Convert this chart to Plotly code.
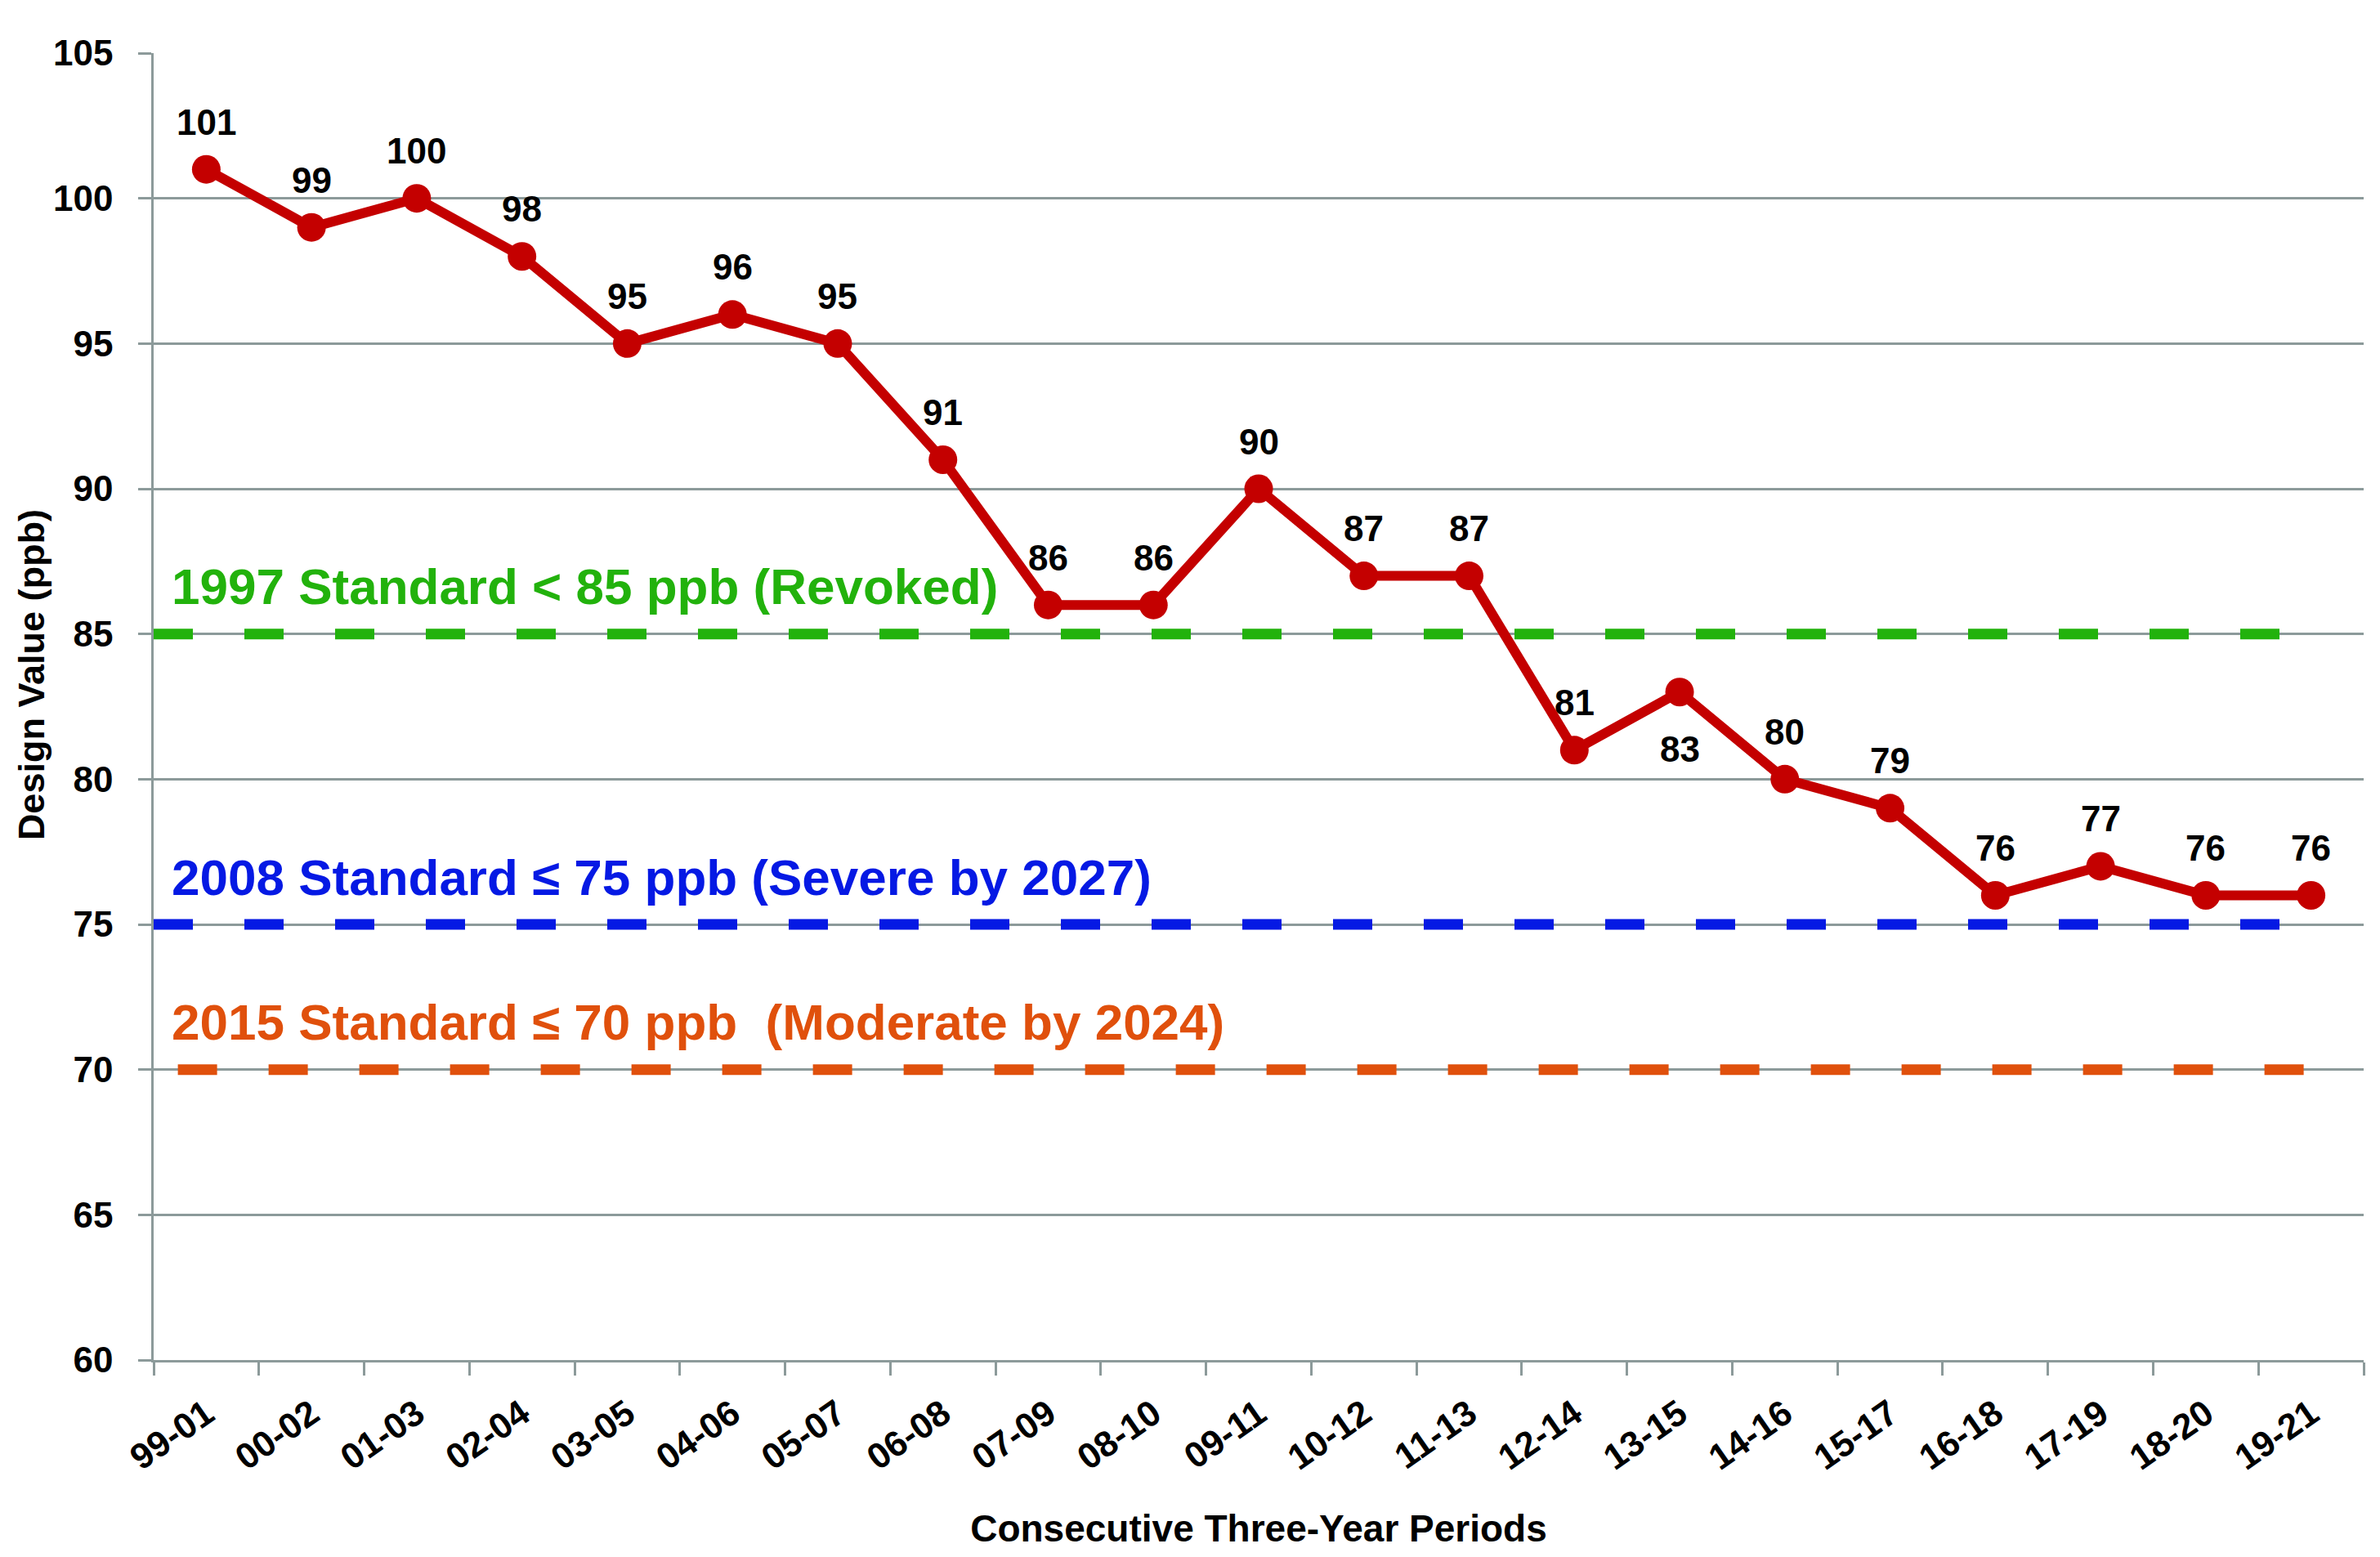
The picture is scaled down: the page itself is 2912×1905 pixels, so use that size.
import plotly.graph_objects as go

# ---- data ----
periods = ["99-01", "00-02", "01-03", "02-04", "03-05", "04-06", "05-07", "06-08",
           "07-09", "08-10", "09-11", "10-12", "11-13", "12-14", "13-15", "14-16",
           "15-17", "16-18", "17-19", "18-20", "19-21"]
design_values = [101, 99, 100, 98, 95, 96, 95, 91, 86, 86, 90, 87, 87, 81, 83, 80,
                 79, 76, 77, 76, 76]
label_below = ["13-15"]  # periods whose value label sits under the marker

standard_values = [85, 75, 70]
standard_labels = [
    "1997 Standard < 85 ppb (Revoked)",
    "2008 Standard \u2264 75 ppb (Severe by 2027)",
    "2015 Standard \u2264 70 ppb \u00a0(Moderate by 2024)",
]
standard_colors = ["#22B20C", "#0519E4", "#E0500C"]

y_ticks = [60, 65, 70, 75, 80, 85, 90, 95, 100, 105]
x_title = "Consecutive Three-Year Periods"
y_title = "Design Value (ppb)"

# ---- styles ----
FONT = "Liberation Sans, Arial, Helvetica, sans-serif"
GRID = "#8C9A9A"
RED = "#C40000"

fig = go.Figure()

fig.add_trace(go.Scatter(
    x=periods, y=design_values, mode="lines+markers",
    line=dict(color=RED, width=12),
    marker=dict(color=RED, size=35),
    showlegend=False, hoverinfo="x+y",
))

# value labels
for p, v in zip(periods, design_values):
    below = p in label_below
    fig.add_annotation(
        x=p, y=v, xref="x", yref="y", text=str(v), showarrow=False,
        yanchor="middle", xanchor="center", yshift=-70 if below else 58,
        font=dict(family=FONT, size=44, color="black", weight="bold"),
    )

# standard threshold lines + labels
line_start_offset = [0, 0, 0.23]
for val, lab, col, off in zip(standard_values, standard_labels, standard_colors, line_start_offset):
    fig.add_shape(
        type="line", xref="x", yref="y",
        x0=-0.5 + off, x1=len(periods) - 1, y0=val, y1=val,
        line=dict(color=col, width=13, dash="48px,63px"), layer="between",
    )
    fig.add_annotation(
        x=0, xref="paper", y=val, yref="y", text=lab, showarrow=False,
        xanchor="left", yanchor="middle", xshift=20, yshift=58,
        font=dict(family=FONT, size=62, color=col, weight="bold"),
    )

# y-axis title (placed slightly above the plot centre, as in the original)
fig.add_annotation(
    x=0, xref="paper", y=0.524, yref="paper", text=y_title, showarrow=False,
    textangle=-90, xanchor="center", yanchor="middle", xshift=-150,
    font=dict(family=FONT, size=45, color="black", weight="bold"),
)

fig.update_layout(
    width=2896, height=1889,
    margin=dict(l=180, r=12, t=57, b=233, autoexpand=False),
    plot_bgcolor="white", paper_bgcolor="white",
    font=dict(family=FONT, color="black"),
)

fig.update_xaxes(
    type="category", range=[-0.5, len(periods) - 0.5], automargin=False,
    tickson="boundaries", ticks="outside", ticklen=16, tickwidth=2.5, tickcolor=GRID,
    showline=True, linecolor=GRID, linewidth=2.5, showgrid=False,
    tickangle=-35, ticklabelstandoff=20,
    tickfont=dict(family=FONT, size=44, color="black", weight="bold"),
    title=dict(text=x_title, standoff=48,
               font=dict(family=FONT, size=46, color="black", weight="bold")),
)
fig.update_yaxes(
    range=[60, 105], tickvals=y_ticks, ticks="outside", ticklen=16, tickwidth=2.5,
    tickcolor=GRID, showline=True, linecolor=GRID, linewidth=2.5, automargin=False,
    showgrid=True, gridcolor=GRID, gridwidth=2.5, zeroline=False,
    ticklabelstandoff=22,
    tickfont=dict(family=FONT, size=44, color="black", weight="bold"),
)

fig.write_html("out.html")
